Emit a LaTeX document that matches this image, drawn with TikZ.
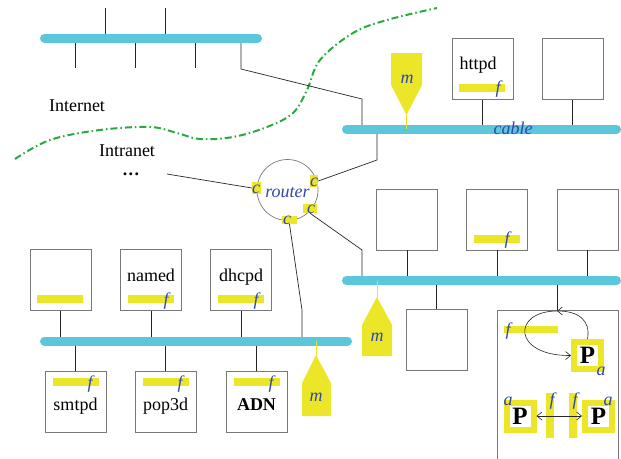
\documentclass[tikz,border=0pt]{standalone}
\usepackage{fontspec}
\setmainfont{Liberation Serif}
\usetikzlibrary{arrows.meta}
\definecolor{cab}{RGB}{92,198,218}
\definecolor{yel}{RGB}{236,230,40}
\definecolor{lbl}{RGB}{48,72,170}
\definecolor{grn}{RGB}{40,170,60}
\definecolor{bx}{RGB}{120,120,120}
\begin{document}
\begin{tikzpicture}[x=1pt,y=-1pt,
  font=\fontsize{18}{20}\selectfont,
  hostbox/.style={draw=bx,line width=0.9pt,minimum width=61pt,minimum height=61pt,inner sep=0pt},
  cablestyle/.style={cab,line width=9pt,line cap=round},
  wire/.style={black!85,line width=0.7pt},
  fbar/.style={fill=yel,minimum width=46pt,minimum height=8pt,inner sep=0pt},
  lab/.style={text=lbl,font=\fontsize{18}{20}\selectfont\itshape,inner sep=0pt,anchor=base},
  txt/.style={inner sep=0pt,anchor=base},
  pbox/.style={draw=yel,line width=6pt,fill=white,minimum size=27pt,inner sep=0pt,font=\fontsize{25}{26}\selectfont\bfseries},
  cbox/.style={fill=yel,inner sep=0pt},
  vbar/.style={fill=yel,minimum width=8pt,minimum height=45pt,inner sep=0pt},
  arr/.style={black!85,line width=0.6pt},
  tip/.style={-{Straight Barb[length=5pt,width=8pt]}}
]
\useasboundingbox (0,0) rectangle (621,458);

% boundary curve
\draw[grn,line width=2pt,dash pattern=on 7pt off 3pt on 1.5pt off 3pt]
  plot[smooth,tension=0.6] coordinates {(15,159) (50,140) (100,130) (150,127) (177,133) (200,139) (233,137) (267,127) (293,113) (307,90) (320,60) (353,33) (387,20) (437,8)};

% cable coordinates
\coordinate (c1l) at (44.5,38);  \coordinate (c1r) at (257.5,38);
\coordinate (c2l) at (346.5,129); \coordinate (c2r) at (616.5,129);
\coordinate (c3l) at (44.5,341); \coordinate (c3r) at (347.5,341);
\coordinate (c4l) at (346.5,280.5); \coordinate (c4r) at (616.5,280.5);

% texts of the left area
\node[txt] (inet) at (77,111) {Internet};
\node[txt] (intra) at (127,156) {Intranet};
\node[txt,font=\fontsize{18}{20}\selectfont\bfseries] (dots) at (131,175) {.\hspace{1.5pt}.\hspace{1.5pt}.};
\coordinate (dotsend) at (167,174);

% ticks on cable 1
\foreach \x in {105,165} \draw[wire] (\x,8) -- (\x,38);
\foreach \x in {75,135,195} \draw[wire] (\x,38) -- (\x,68);
\coordinate (k1) at (241,69);
\coordinate (k2) at (362,99);
\draw[wire] (241,38) -- (k1) -- (k2) -- (k2 |- c2l);

% router
\node[draw=bx,circle,minimum size=61pt,line width=0.7pt,inner sep=0pt] (router) at (287.5,190) {};
\node[lab,anchor=base] (routert) at (287.5,197) {router};
\node[cbox,minimum width=9pt,minimum height=12pt] (cL) at (256.5,188) {};
\node[cbox,minimum width=8pt,minimum height=12pt] (cTR) at (314,181) {};
\node[cbox,minimum width=14pt,minimum height=9pt] (cBR) at (310,208.5) {};
\node[cbox,minimum width=15pt,minimum height=8pt] (cB) at (289.5,220) {};
\node[lab] at (256,193) {c};
\node[lab] at (314,186) {c};
\node[lab] at (311,213) {c};
\node[lab] at (287,224.5) {c};

% connectors to router
\draw[wire] (dotsend) -- (cL.west);
\coordinate (k3) at (377,160);
\draw[wire] (k3 |- c2l) -- (k3) -- (cTR.east);
\coordinate (k4) at (302,310);
\draw[wire] (cB.south) -- (k4) -- (k4 |- c3l);
\coordinate (k5) at (362,250);
\draw[wire] (cBR.south) -- (k5) -- (k5 |- c4l);

% hosts on cable 2
\node[hostbox] (httpd) at (482.5,69) {};
\node[hostbox] (h2b) at (572.5,69) {};
\draw[wire] (httpd.south) -- (httpd.south |- c2l);
\draw[wire] (h2b.south) -- (h2b.south |- c2l);

% hosts on cable 4
\node[hostbox] (h4a) at (407,219.5) {};
\node[hostbox] (h4b) at (497,219.5) {};
\node[hostbox] (h4c) at (587.5,219.5) {};
\node[hostbox] (h4d) at (436.5,339.5) {};
\node[draw=bx,line width=0.9pt,minimum width=121pt,minimum height=156pt,inner sep=0pt] (big) at (557.5,388) {};
\foreach \n in {h4a,h4b,h4c} \draw[wire] (\n.south) -- (\n.south |- c4l);
\draw[wire] (h4d.north) -- (h4d.north |- c4l);
\draw[wire] (big.north) -- (big.north |- c4l);

% hosts on cable 3
\node[hostbox] (h3a) at (60.5,280) {};
\node[hostbox] (named) at (151,280) {};
\node[hostbox] (dhcpd) at (241,280) {};
\node[hostbox] (smtpd) at (75.5,401.5) {};
\node[hostbox] (pop) at (165.5,401.5) {};
\node[hostbox] (adn) at (256.5,401.5) {};
\foreach \n in {h3a,named,dhcpd} \draw[wire] (\n.south) -- (\n.south |- c3l);
\foreach \n in {smtpd,pop,adn} \draw[wire] (\n.north) -- (\n.north |- c3l);

% cables
\draw[cablestyle] (c1l) -- (c1r);
\draw[cablestyle] (c2l) -- (c2r);
\draw[cablestyle] (c3l) -- (c3r);
\draw[cablestyle] (c4l) -- (c4r);
\node[lab] (cablet) at (513,134) {cable};

% host contents
\node[txt] at (478,69) {httpd};
\node[fbar] at (482,87.5) {};
\node[lab] at (498,93) {f};

\node[fbar] at (497,238.5) {};
\node[lab] at (507,244) {f};

\node[fbar] at (60,299) {};
\node[txt] at (151,281) {named};
\node[fbar] at (151,299) {};
\node[lab] at (166,305) {f};
\node[txt] at (241,281) {dhcpd};
\node[fbar] at (241,299) {};
\node[lab] at (256,305) {f};

\node[fbar] at (75.5,382) {};
\node[lab] at (90,388) {f};
\node[txt] at (75.5,410) {smtpd};
\node[fbar] at (165.5,382) {};
\node[lab] at (180,388) {f};
\node[txt] at (165.5,410) {pop3d};
\node[fbar] at (256.5,382) {};
\node[lab] at (271,388) {f};
\node[txt,font=\fontsize{18}{20}\selectfont\bfseries] at (256.5,410) {ADN};

% markers
\draw[yel,line width=0.8pt] (406.5,115) -- (406.5,129);
\fill[yel] (391,53) -- (422,53) -- (422,85) -- (406.5,115) -- (391,85) -- cycle;
\node[lab] at (407,83) {m};
\draw[yel,line width=0.8pt] (316,341) -- (316,356);
\fill[yel] (316,355) -- (331,383) -- (331,416) -- (302,416) -- (302,383) -- cycle;
\node[lab] at (316,401) {m};
\draw[yel,line width=0.8pt] (377,280.5) -- (377,298);
\fill[yel] (377,297) -- (392,325) -- (392,356) -- (362,356) -- (362,325) -- cycle;
\node[lab] at (377,341) {m};

% big box contents
\node[fill=yel,minimum width=54pt,minimum height=7pt,inner sep=0pt] (fb) at (531,329.5) {};
\node[lab] at (508,335) {f};
\node[pbox] (p1) at (587.5,355.5) {P};
\node[lab] at (601,375) {a};
\coordinate (top) at (557,311);
\draw[arr,tip] (p1.north) .. controls (591,320) and (578,311) .. (top);
\draw[arr,tip] (top) .. controls (512,311) and (512,356) .. (p1.west);
\node[vbar] (v1) at (550,415.5) {};
\node[vbar] (v2) at (572.5,415.5) {};
\node[lab] at (552,405) {f};
\node[lab] at (575,405) {f};
\node[pbox] (p2) at (520,416) {P};
\node[pbox] (p3) at (598.5,416) {P};
\node[lab] at (508,405) {a};
\node[lab] at (608,405) {a};
\draw[arr,{Straight Barb[length=5pt,width=8pt]}-{Straight Barb[length=5pt,width=8pt]}] (p2.east) -- (p3.west);
\end{tikzpicture}
\end{document}
